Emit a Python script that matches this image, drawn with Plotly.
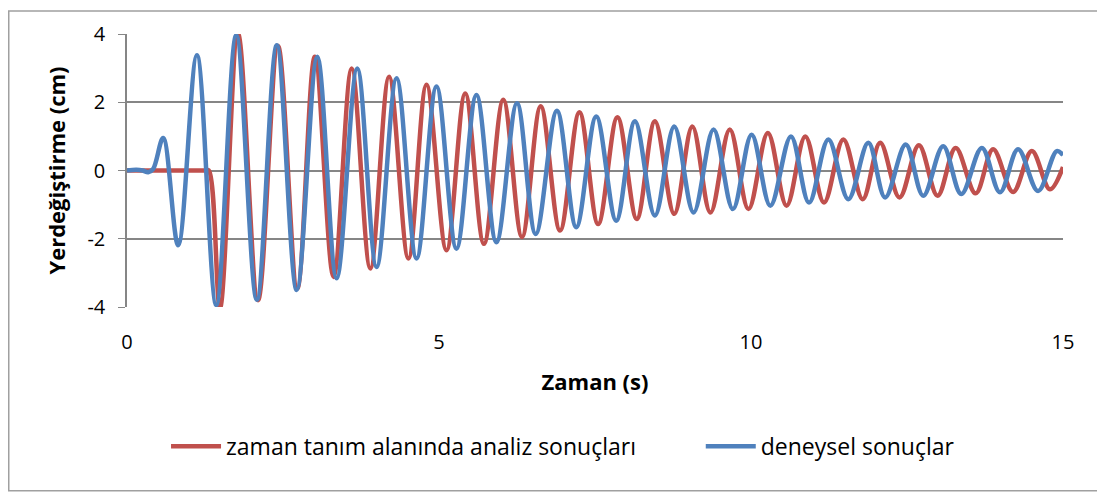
import plotly.graph_objects as go

# zaman tanım alanında analiz sonuçları (red): flat start, then extrema
analiz_t = [0.0, 0.5, 1.0, 1.25, 1.31, 1.49, 1.78, 2.10, 2.42, 2.73, 3.01, 3.31, 3.60, 3.90, 4.20, 4.51,
            4.80, 5.12, 5.42, 5.72, 6.03, 6.33, 6.63, 6.94, 7.25, 7.55, 7.86, 8.17, 8.46, 8.77,
            9.06, 9.35, 9.66, 9.96, 10.27, 10.57, 10.87, 11.17, 11.48, 11.79, 12.07, 12.38,
            12.69, 12.99, 13.28, 13.60, 13.88, 14.20, 14.50, 14.79, 15.0]
analiz_y = [0.0, 0.0, 0.0, 0.0, 0.0, -4.03, 4.0, -3.8, 3.65, -3.45, 3.33, -3.12, 2.99, -2.87, 2.75, -2.58,
            2.51, -2.34, 2.26, -2.15, 2.07, -1.95, 1.88, -1.76, 1.71, -1.57, 1.56, -1.42, 1.44, -1.27,
            1.29, -1.23, 1.20, -1.13, 1.10, -1.03, 1.00, -0.94, 0.91, -0.84, 0.81, -0.79,
            0.74, -0.74, 0.66, -0.67, 0.62, -0.63, 0.57, -0.55, 0.1]

# deneysel sonuçlar (blue)
deney_t = [0.0, 0.15, 0.25, 0.34, 0.42, 0.58, 0.82, 1.12, 1.43, 1.75, 2.08, 2.40, 2.72, 3.05, 3.36,
           3.69, 4.00, 4.32, 4.64, 4.96, 5.28, 5.60, 5.92, 6.25, 6.55, 6.89, 7.20, 7.52, 7.84,
           8.14, 8.46, 8.77, 9.08, 9.40, 9.71, 10.01, 10.31, 10.64, 10.93, 11.24, 11.56, 11.88,
           12.15, 12.48, 12.76, 13.08, 13.37, 13.70, 13.99, 14.28, 14.60, 14.90, 15.0]
deney_y = [0.0, 0.02, 0.0, -0.05, 0.05, 0.95, -2.19, 3.38, -3.94, 3.96, -3.79, 3.67, -3.50, 3.33, -3.16,
           2.99, -2.83, 2.70, -2.58, 2.46, -2.29, 2.21, -2.10, 1.97, -1.86, 1.75, -1.66, 1.58, -1.47,
           1.44, -1.32, 1.29, -1.23, 1.20, -1.13, 1.05, -1.03, 1.00, -0.94, 0.91, -0.84, 0.81,
           -0.79, 0.76, -0.74, 0.71, -0.69, 0.66, -0.64, 0.62, -0.60, 0.57, 0.45]

x_ticks = [0, 5, 10, 15]
y_ticks = [-4, -2, 0, 2, 4]
y_labels = ['-4', '-2', '0', '2', '4']

font = 'Open Sans'
grid = 'rgb(134,134,134)'

fig = go.Figure()
fig.add_trace(go.Scatter(x=analiz_t, y=analiz_y, mode='lines', name='zaman tanım alanında analiz sonuçları',
                         legend='legend',
                         line=dict(color='#C0504D', width=4.5, shape='spline', smoothing=1.0)))
fig.add_trace(go.Scatter(x=deney_t, y=deney_y, mode='lines', name='deneysel sonuçlar',
                         legend='legend2',
                         line=dict(color='#4F81BD', width=4.5, shape='spline', smoothing=1.0)))

# page body adds an 8px offset, so the figure is 8px smaller and margins shifted
leg = dict(orientation='h', xanchor='left', y=-0.51, yanchor='middle',
           font=dict(size=23), itemwidth=50, bgcolor='rgba(0,0,0,0)')
fig.update_layout(
    width=1097, height=487,
    margin=dict(l=119, r=42, t=24, b=188),
    paper_bgcolor='white', plot_bgcolor='white',
    font=dict(family=font, size=20, color='black'),
    showlegend=True,
    legend=dict(leg, x=0.0417),
    legend2=dict(leg, x=0.613),
)
fig.update_xaxes(range=[0, 15], tickvals=x_ticks, showgrid=False, zeroline=False,
                 showline=False, ticks='', ticklabelstandoff=21,
                 title=dict(text='<b>Zaman (s)</b>', font=dict(size=22), standoff=20))
fig.update_yaxes(range=[-4, 4], tickvals=y_ticks, ticktext=y_labels, showgrid=True, gridcolor=grid, gridwidth=1.5,
                 zeroline=True, zerolinecolor=grid, zerolinewidth=1.5,
                 showline=True, linecolor=grid, linewidth=1.5, ticks='outside', ticklen=7, tickcolor=grid,
                 ticklabelstandoff=9,
                 title=dict(text='<b>Yerdeğiştirme (cm)</b>', font=dict(size=22), standoff=16))

# outer chart border
fig.add_shape(type='rect', xref='paper', yref='paper',
              x0=(0.75 - 119) / 936, x1=(1094 - 119) / 936, y0=(299 - 484) / 275, y1=(299 - 0.75) / 275,
              line=dict(color='rgb(160,160,160)', width=1.5), layer='below')

fig.write_html('out.html')
